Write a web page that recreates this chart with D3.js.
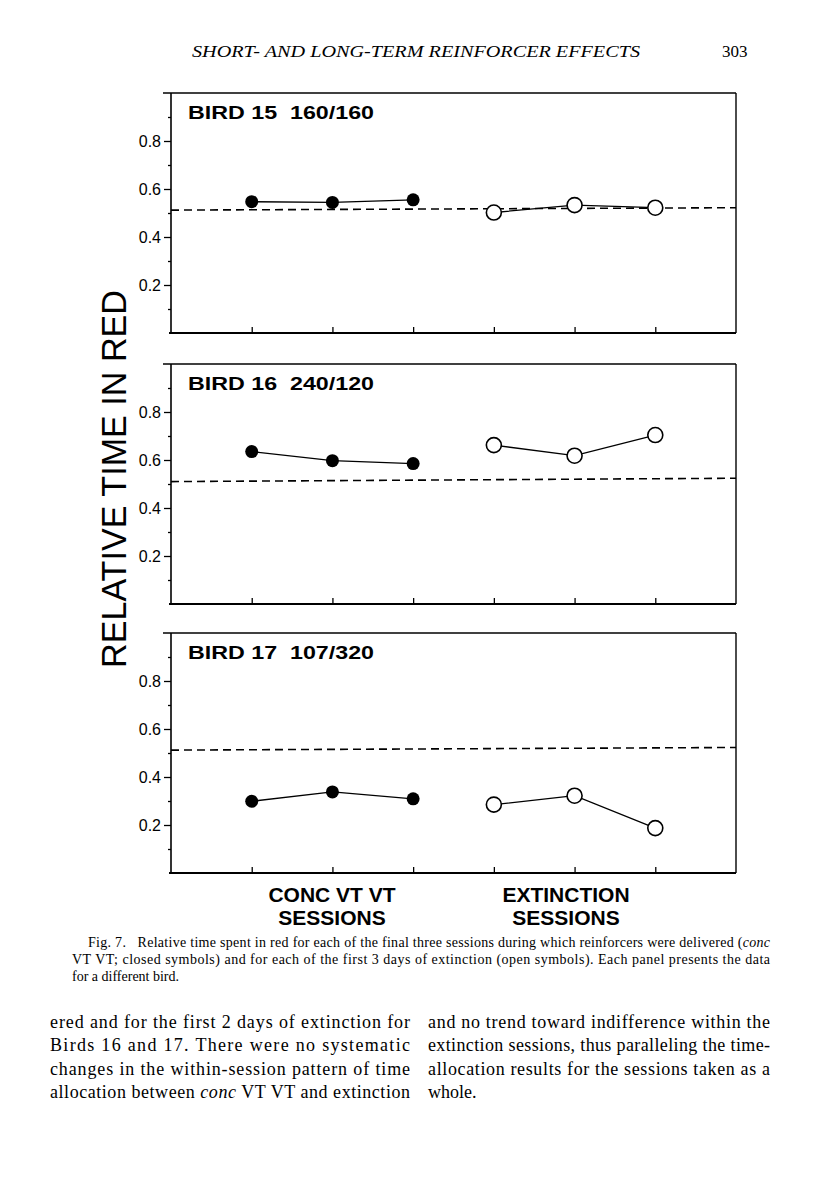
<!DOCTYPE html>
<html><head><meta charset="utf-8">
<script src="https://cdn.jsdelivr.net/npm/d3@7"></script>
<style>body{margin:0;background:#fff}svg{display:block}</style>
</head><body>
<script>
// ---- data ----
const birds = ["BIRD 15  160/160", "BIRD 16  240/120", "BIRD 17  107/320"];
const concSessions = [1, 2, 3];
const extSessions = [4, 5, 6];
const concValues = [
  [0.547, 0.544, 0.555],
  [0.635, 0.597, 0.585],
  [0.299, 0.338, 0.309]
];
const extValues = [
  [0.502, 0.533, 0.522],
  [0.662, 0.618, 0.704],
  [0.285, 0.322, 0.187]
];
const indifference = [ [0.512, 0.522], [0.510, 0.524], [0.512, 0.523] ]; // at x=0 and x=7
const majorTicks = [0.2, 0.4, 0.6, 0.8];
const minorTicks = [0.1, 0.3, 0.5, 0.7, 0.9];
const xTicks = [1, 2, 3, 4, 5, 6];
const xLabels = [["CONC VT VT", "SESSIONS"], ["EXTINCTION", "SESSIONS"]];
const yTitle = "RELATIVE TIME IN RED";

const W = 816, H = 1193;
const svg = d3.select("body").append("svg").attr("width", W).attr("height", H);
const sans = "'Liberation Sans', Arial, Helvetica, sans-serif";
const serif = "'Liberation Serif', 'Times New Roman', serif";

const x = d3.scaleLinear().domain([0, 7]).range([171, 736]);
const panelBottoms = [333, 604, 873];

panelBottoms.forEach((yb, i) => {
  const y = d3.scaleLinear().domain([0, 1]).range([yb, yb - 240]);
  const g = svg.append("g");
  // frame
  g.append("line").attr("x1", x(0)).attr("x2", x(0)).attr("y1", y(1)).attr("y2", y(0))
    .attr("stroke", "#000").attr("stroke-width", 1.6);
  g.append("line").attr("x1", x(0) - 8).attr("x2", x(7)).attr("y1", y(1)).attr("y2", y(1))
    .attr("stroke", "#000").attr("stroke-width", 1.4);
  g.append("line").attr("x1", x(7)).attr("x2", x(7)).attr("y1", y(1)).attr("y2", y(0))
    .attr("stroke", "#000").attr("stroke-width", 1.4);
  // y axis
  const ya = d3.axisLeft(y).tickValues(majorTicks).tickSize(7).tickPadding(3).tickFormat(d3.format(".1f"));
  const yag = g.append("g").attr("transform", `translate(${x(0)},0)`).call(ya);
  yag.select(".domain").remove();
  yag.selectAll("line").attr("stroke-width", 1.3);
  yag.selectAll("text").attr("font-family", sans).attr("font-size", 16).attr("fill", "#000");
  const ym = d3.axisLeft(y).tickValues(minorTicks).tickSize(3).tickFormat("");
  const ymg = g.append("g").attr("transform", `translate(${x(0)},0)`).call(ym);
  ymg.select(".domain").remove();
  ymg.selectAll("line").attr("stroke-width", 1.3);
  // x axis
  const xa = d3.axisTop(x).tickValues(xTicks).tickSize(6).tickFormat("");
  const xag = g.append("g").attr("transform", `translate(0,${y(0)})`).call(xa);
  xag.select(".domain").remove();
  xag.selectAll("line").attr("stroke-width", 1.3);
  g.append("line").attr("x1", x(0) - 2).attr("x2", x(7)).attr("y1", y(0)).attr("y2", y(0))
    .attr("stroke", "#000").attr("stroke-width", 1.8);
  // indifference dashed line
  g.append("line").attr("x1", x(0)).attr("x2", x(7))
    .attr("y1", y(indifference[i][0])).attr("y2", y(indifference[i][1]))
    .attr("stroke", "#000").attr("stroke-width", 1.6).attr("stroke-dasharray", "8,5");
  // lines
  const line = d3.line().x(d => x(d[0])).y(d => y(d[1]));
  const conc = concSessions.map((s, k) => [s, concValues[i][k]]);
  const ext = extSessions.map((s, k) => [s, extValues[i][k]]);
  g.append("path").attr("d", line(conc)).attr("fill", "none").attr("stroke", "#000").attr("stroke-width", 1.3);
  g.append("path").attr("d", line(ext)).attr("fill", "none").attr("stroke", "#000").attr("stroke-width", 1.3);
  g.selectAll(".c").data(conc).enter().append("circle")
    .attr("cx", d => x(d[0])).attr("cy", d => y(d[1])).attr("r", 6.5).attr("fill", "#000");
  g.selectAll(".o").data(ext).enter().append("circle")
    .attr("cx", d => x(d[0])).attr("cy", d => y(d[1])).attr("r", 7.5)
    .attr("fill", "#fff").attr("stroke", "#000").attr("stroke-width", 1.6);
  // label
  g.append("text").attr("x", 188).attr("y", y(1) + 26).text(birds[i])
    .attr("font-family", sans).attr("font-weight", "bold").attr("font-size", 18)
    .attr("textLength", 186).attr("lengthAdjust", "spacingAndGlyphs").style("white-space", "pre");
});

// y title
svg.append("text").attr("transform", "translate(126,479) rotate(-90)")
  .attr("text-anchor", "middle").text(yTitle)
  .attr("font-family", sans).attr("font-size", 35)
  .attr("textLength", 378).attr("lengthAdjust", "spacingAndGlyphs");

// x labels
[332, 566].forEach((cx, k) => {
  xLabels[k].forEach((t, j) => {
    svg.append("text").attr("x", cx).attr("y", 902 + j * 23).attr("text-anchor", "middle").text(t)
      .attr("font-family", sans).attr("font-weight", "bold").attr("font-size", 21);
  });
});

// header
svg.append("text").attr("x", 192).attr("y", 57).text("SHORT- AND LONG-TERM REINFORCER EFFECTS")
  .attr("font-family", serif).attr("font-style", "italic").attr("font-size", 17)
  .attr("textLength", 448).attr("lengthAdjust", "spacingAndGlyphs");
svg.append("text").attr("x", 722).attr("y", 57).text("303")
  .attr("font-family", serif).attr("font-size", 17);

// caption
function richLine(xp, yp, parts, len, size) {
  const t = svg.append("text").attr("x", xp).attr("y", yp).attr("font-family", serif).attr("font-size", size)
    .style("white-space", "pre");
  if (len) t.attr("textLength", len).attr("lengthAdjust", "spacing");
  parts.forEach(p => {
    const ts = t.append("tspan").text(p.t);
    if (p.i) ts.attr("font-style", "italic");
  });
}
richLine(88, 947, [{t: "Fig. 7.   Relative time spent in red for each of the final three sessions during which reinforcers were delivered ("}, {t: "conc", i: true}], 682, 14);
richLine(72, 964, [{t: "VT VT; closed symbols) and for each of the first 3 days of extinction (open symbols). Each panel presents the data"}], 698, 14);
richLine(72, 981, [{t: "for a different bird."}], null, 14);

// body text
const leftCol = [
  [{t: "ered and for the first 2 days of extinction for"}],
  [{t: "Birds 16 and 17. There were no systematic"}],
  [{t: "changes in the within-session pattern of time"}],
  [{t: "allocation between "}, {t: "conc", i: true}, {t: " VT VT and extinction"}]
];
const rightCol = [
  [{t: "and no trend toward indifference within the"}],
  [{t: "extinction sessions, thus paralleling the time-"}],
  [{t: "allocation results for the sessions taken as a"}],
  [{t: "whole."}]
];
leftCol.forEach((l, k) => richLine(50, 1028 + k * 23.3, l, 360, 18));
rightCol.forEach((l, k) => richLine(428, 1028 + k * 23.3, l, k < 3 ? 342 : null, 18));
</script>
</body></html>
